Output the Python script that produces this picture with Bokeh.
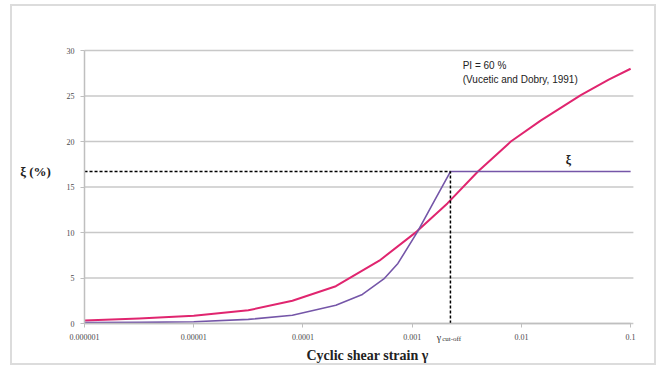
from bokeh.plotting import figure
from bokeh.models import (FixedTicker, CustomJSTickFormatter, Label, Range1d)
from bokeh.embed import file_html
from bokeh.resources import INLINE

# Data
tick_values = [1e-6, 1e-5, 1e-4, 1e-3, 1e-2, 1e-1]
tick_labels = ["0.000001", "0.00001", "0.0001", "0.001", "0.01", "0.1"]
y_ticks = [0, 5, 10, 15, 20, 25, 30]

# Vucetic and Dobry (1991), PI = 60 %
vd_strain = [1e-6, 3.16e-6, 1e-5, 3.16e-5, 8e-5, 2e-4, 5e-4, 1.1e-3,
             2.1e-3, 4e-3, 8e-3, 1.5e-2, 3.5e-2, 6.3e-2, 1e-1]
vd_damping = [0.33, 0.55, 0.85, 1.45, 2.5, 4.1, 6.9, 10.1,
              13.2, 16.7, 20.0, 22.3, 25.1, 26.8, 28.0]

# Model damping with cut-off
xi_strain = [1e-6, 3.16e-6, 1e-5, 3.16e-5, 8e-5, 2e-4, 3.5e-4, 5.5e-4, 7.4e-4,
             1.12e-3, 1.6e-3, 2.24e-3, 1e-1]
xi_damping = [0.1, 0.12, 0.2, 0.45, 0.9, 2.0, 3.2, 4.9, 6.6,
              10.1, 13.5, 16.7, 16.7]

cutoff_strain = 2.24e-3
cutoff_xi = 16.7

p = figure(width=646, height=361, x_axis_type="log", output_backend="svg",
           toolbar_location=None,
           x_range=Range1d(2.19e-7, 0.180), y_range=Range1d(-4.835, 34.84),
           min_border_left=0, min_border_right=0, min_border_top=0, min_border_bottom=0,
           styles={"margin-left": "10px", "margin-top": "4px", "border": "2px solid #dcdcdc"})
p.outline_line_color = None
p.background_fill_color = "white"
p.border_fill_color = "white"

p.xgrid.grid_line_color = None
p.ygrid.grid_line_color = None

# horizontal gridlines drawn from the y tick values
grid_x0 = [tick_values[0]] * len(y_ticks)
grid_x1 = [0.106] * len(y_ticks)
p.segment(x0=grid_x0, y0=y_ticks, x1=grid_x1, y1=y_ticks, line_color="#c8c8c8", line_width=1.5)

p.yaxis.ticker = FixedTicker(ticks=y_ticks)
p.yaxis.bounds = (0, 30)
p.yaxis.fixed_location = 1e-6
p.xaxis.fixed_location = 0
p.xaxis.bounds = (1e-6, 0.1)
p.xaxis.ticker = FixedTicker(ticks=tick_values)
p.xaxis.formatter = CustomJSTickFormatter(args=dict(vals=tick_values, labs=tick_labels), code="""
let best = 0, bd = 1e9;
for (let i = 0; i < vals.length; i++) {
  const d = Math.abs(Math.log10(vals[i]) - Math.log10(tick));
  if (d < bd) { bd = d; best = i; }
}
return labs[best];
""")
p.xaxis.minor_tick_line_color = None
p.yaxis.minor_tick_line_color = None
for ax in (p.xaxis, p.yaxis):
    ax.axis_line_color = "#bfbfbf"
    ax.axis_line_width = 1.5
    ax.major_tick_line_color = "#bfbfbf"
    ax.major_tick_in = 0
    ax.major_tick_out = 4
    ax.major_label_text_font = "Liberation Serif"
    ax.major_label_text_font_size = "8px"
    ax.major_label_text_color = "#4a4a4a"
p.xaxis.major_label_standoff = 6
p.yaxis.major_label_standoff = 6

# curves
p.line(vd_strain, vd_damping, line_color="#e0256f", line_width=2, line_join="round")
p.line(xi_strain, xi_damping, line_color="#7556a8", line_width=1.6, line_join="round")

# dashed cut-off lines
p.line([1e-6, cutoff_strain], [cutoff_xi, cutoff_xi], line_color="black", line_dash="3 2", line_width=1.5)
p.line([cutoff_strain, cutoff_strain], [0, cutoff_xi], line_color="black", line_dash="3 2", line_width=1.5)

# axis titles
p.add_layout(Label(x=3.9e-4, y=-3.55, text="Cyclic shear strain γ", text_font="Liberation Serif",
                   text_font_style="bold", text_font_size="14px", text_color="#222222",
                   text_baseline="middle", text_align="center"))
p.add_layout(Label(x=3.56e-7, y=16.7, text="ξ (%)", text_font="Liberation Serif",
                   text_font_style="bold", text_font_size="13px", text_color="#222222",
                   text_baseline="middle", text_align="center"))

# annotations
p.add_layout(Label(x=0.0029, y=28.35, text="PI = 60 %", text_font="Liberation Sans",
                   text_font_size="10px", text_color="#222222", text_baseline="middle"))
p.add_layout(Label(x=0.0029, y=26.85, text="(Vucetic and Dobry, 1991)", text_font="Liberation Sans",
                   text_font_size="10px", text_color="#222222", text_baseline="middle"))
p.add_layout(Label(x=0.027, y=18.0, text="ξ", text_font="Liberation Serif", text_font_style="bold",
                   text_font_size="12px", text_color="#222222", text_baseline="middle", text_align="center"))
p.add_layout(Label(x=0.00168, y=-1.5, text="γ", text_font="Liberation Serif",
                   text_font_size="10px", text_color="#333333", text_baseline="middle"))
p.add_layout(Label(x=0.00188, y=-1.75, text="cut-off", text_font="Liberation Serif",
                   text_font_size="7px", text_color="#333333", text_baseline="middle"))

open("out.html", "w").write(file_html(p, INLINE))
